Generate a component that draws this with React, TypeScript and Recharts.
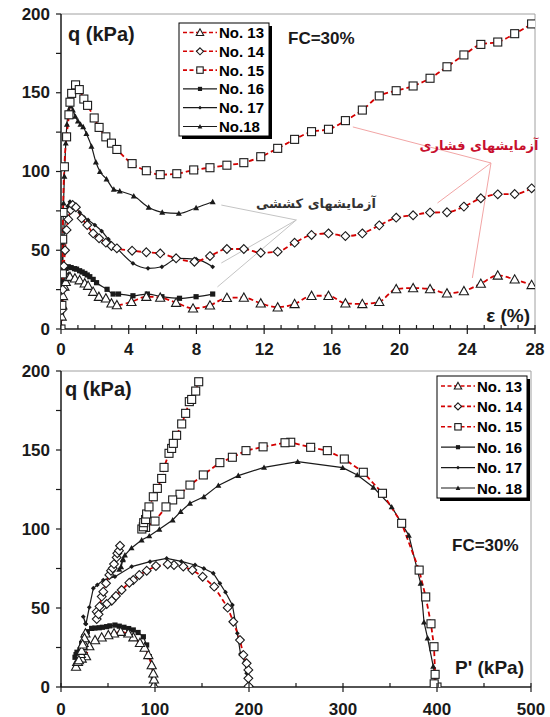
import React from 'react'
import { LineChart, Line, XAxis, YAxis, ReferenceLine } from 'recharts'

type Pt = [number, number]

// strain (%) vs q (kPa), upper panel
const strainTicks = Array.from({ length: 29 }, (_, i) => i)
const qTicks = [0, 25, 50, 75, 100, 125, 150, 175, 200]
const pTicks = [0, 50, 100, 150, 200, 250, 300, 350, 400, 450, 500]

const top13: Pt[] = [[0, 0], [0.04, 8], [0.08, 15], [0.12, 21], [0.2, 27], [0.28, 30], [0.43, 33], [0.53, 33.2], [0.82, 32.2], [1.1, 31], [1.4, 29], [1.6, 27.5], [1.9, 23.7], [2.24, 20.5], [2.65, 19.5], [2.98, 16.3], [3.3, 15.2], [4.16, 17.3], [5.04, 20.5], [5.86, 20], [6.8, 16.7], [7.8, 13.1], [8.8, 15], [9.8, 19.8], [10.8, 20], [11.8, 16.3], [12.8, 13.8], [13.8, 15.9], [14.8, 21.1], [15.8, 21.1], [16.8, 16.3], [17.8, 15.9], [18.8, 17.3], [19.8, 25.4], [20.8, 26], [21.8, 25.4], [22.8, 22.7], [23.8, 24.1], [24.8, 28.8], [25.8, 34], [26.8, 31.5], [27.8, 28]]
const top14: Pt[] = [[0, 0], [0.05, 12], [0.1, 25], [0.17, 40], [0.24, 50], [0.33, 62.9], [0.43, 69.6], [0.57, 75.6], [0.69, 78.7], [0.88, 77.3], [1.22, 70.3], [1.55, 66], [1.9, 60.7], [2.25, 57.6], [2.65, 54.8], [2.98, 52.7], [3.3, 51.2], [4.2, 49.7], [5.04, 48.7], [5.86, 48], [6.8, 44.9], [7.88, 42.7], [8.8, 46.3], [9.8, 50.8], [10.8, 50.8], [11.8, 48.4], [12.8, 49.1], [13.8, 54.8], [14.8, 59.7], [15.8, 60.7], [16.8, 59], [17.8, 60.7], [18.8, 65.8], [19.8, 70.7], [20.8, 72.2], [21.8, 73.9], [22.8, 74.1], [23.8, 77.7], [24.8, 83], [25.8, 85.5], [26.8, 85.7], [27.8, 89.3]]
const top15: Pt[] = [[0, 0], [0.05, 15], [0.08, 35], [0.1, 57], [0.12, 74], [0.2, 103], [0.33, 122], [0.47, 136], [0.53, 144], [0.63, 149.6], [0.86, 155], [1.08, 152], [1.35, 146], [1.57, 142], [1.96, 134], [2.25, 128], [2.65, 122], [2.98, 118], [3.3, 114], [4.2, 105], [5.04, 100.5], [5.86, 98], [6.84, 98.6], [7.84, 101], [8.8, 102.4], [9.8, 104], [10.8, 105.6], [11.8, 109.4], [12.8, 114.7], [13.8, 120.4], [14.8, 125.3], [15.8, 126.8], [16.8, 132.3], [17.8, 139], [18.8, 148], [19.8, 151.3], [20.8, 154.3], [21.8, 159.2], [22.8, 166.5], [23.8, 174], [24.8, 180.7], [25.8, 182.2], [26.8, 187.5], [27.8, 193.7]]
const top16: Pt[] = [[0, 0], [0.03, 10], [0.06, 20], [0.1, 30], [0.2, 36], [0.3, 38.5], [0.43, 39.5], [0.6, 39], [0.8, 38.3], [0.92, 38], [1.1, 37], [1.25, 36.2], [1.41, 35.3], [1.55, 34.3], [1.7, 33.2], [1.9, 31.5], [2.1, 29.4], [2.72, 25.2], [3.08, 22.2], [3.4, 22.2], [4.25, 21.1], [5.1, 22.2], [5.96, 20.5], [7, 19.5], [7.98, 20.5], [8.96, 22.2]]
const top17: Pt[] = [[0, 0], [0.05, 20], [0.1, 40], [0.2, 62], [0.3, 72], [0.4, 78], [0.53, 80.8], [0.7, 79], [0.9, 76.5], [1.1, 74], [1.35, 71], [1.6, 69.2], [2, 66], [2.4, 62.2], [2.8, 57], [3.37, 50.6], [4.25, 41.7], [5.14, 38.5], [5.96, 39.5], [6.9, 44.9], [7.98, 44.4], [8.96, 39.5]]
const top18: Pt[] = [[0, 0], [0.05, 25], [0.1, 55], [0.15, 80], [0.2, 97], [0.28, 118], [0.35, 130], [0.45, 139], [0.57, 141.6], [0.7, 139], [0.85, 135], [1.0, 132], [1.15, 130], [1.31, 128.4], [1.5, 124], [1.8, 116], [2.06, 106], [2.3, 100], [2.69, 95.2], [3.12, 88.7], [3.47, 87.6], [4.3, 84.4], [5.18, 77.3], [5.98, 74.1], [6.96, 73.4], [7.98, 77], [8.96, 80.8]]

// p' (kPa) vs q (kPa), lower panel
const bot13: Pt[] = [[99, 0], [98.9, 1.2], [98.9, 4.9], [98.2, 8.7], [96.5, 13.9], [92.9, 20.3], [89, 25], [84, 28], [77, 31.5], [71.6, 34], [63.5, 35], [56.4, 34], [50.3, 32.9], [43.3, 31.4], [36.2, 29.7], [30.1, 25.9], [26.6, 19.6], [22, 18.1], [17.3, 16], [16, 12.9], [18, 16], [21, 21], [19, 17], [23, 26], [22, 23], [24, 28], [26, 34], [25, 31], [23, 27]]
const bot14: Pt[] = [[200, 0], [199.6, 0.5], [199.3, 5.5], [199.3, 10.8], [197.5, 15], [194, 20.3], [190.4, 29.7], [183.3, 41.3], [177.3, 50.2], [163, 63.5], [150.7, 69.8], [139.7, 74], [130.1, 76.2], [120.2, 77.2], [113.5, 77.7], [101, 76.6], [91.2, 73.6], [83.3, 70.9], [76.9, 67.7], [72.7, 66], [64.5, 61.4], [58.5, 57.6], [53.9, 54.6], [48.6, 52.5], [43.3, 50.4], [38, 47.7], [38, 43], [40, 46], [41, 51], [43.3, 57.2], [45, 60.3], [47.9, 65.6], [51.4, 70.9], [53.2, 73.6], [55, 75.1], [56.4, 77.8], [59.2, 82], [59.9, 84.6], [61.7, 86.3], [62.8, 89.4]]
const bot15: Pt[] = [[400, 0], [397, 2], [398, 8], [396.8, 25.5], [393.6, 40], [388, 57], [381, 74], [362.4, 103.6], [342, 122.6], [321.6, 135.9], [301.4, 144.3], [283.3, 149.6], [265.6, 151.7], [244.4, 154.9], [238.3, 154.6], [215, 152], [196.8, 149.6], [182.3, 145.4], [169, 142], [151.4, 134.2], [137.2, 127.8], [126.6, 122], [118.8, 118.4], [111.7, 114], [100, 105], [90, 101], [86, 100], [87.6, 101.4], [88, 104], [90, 106], [91.1, 109.5], [93.6, 114], [98.2, 120.4], [102.5, 125.7], [107.1, 132], [109.6, 139], [114.9, 147.9], [117.7, 151], [119.5, 154.2], [123, 159.3], [128.4, 166.5], [132.6, 173.2], [136.5, 180.6], [139, 182], [143.3, 187.3], [146.5, 193.2]]
const bot16: Pt[] = [[99, 0], [98.9, 0.6], [98.2, 6.5], [96.5, 12.9], [94, 19.2], [91.1, 26.6], [87.6, 31.8], [82, 34.5], [76.9, 36.1], [72, 37], [67, 37.8], [62, 38.5], [57.4, 39.2], [52, 38.7], [48.6, 38.2], [44, 37.8], [40.7, 37.5], [36, 37.3], [32.6, 37.1], [28, 35], [24.5, 31.8], [22, 27.6], [20.2, 23.4], [17.3, 19.2], [14.9, 18.8], [16, 20.5], [17, 22]]
const bot17: Pt[] = [[200, 0], [199.3, 0.6], [197.5, 8.7], [195.7, 16], [191, 20.9], [187.6, 34], [182.3, 51.9], [175, 60], [169, 65.6], [162, 72], [152, 75], [142.6, 77.2], [128, 79.5], [112.4, 81.4], [94.7, 79.3], [75.2, 76.2], [57.4, 69.8], [45, 67.7], [38.6, 64.6], [34.4, 62.5], [30.1, 50.4], [26.6, 39.9], [23.7, 44.5], [26, 40]]
const bot18: Pt[] = [[400, 0], [399.7, 2], [396, 13.1], [390, 31], [386.2, 41], [382.6, 65.6], [370, 96], [351.8, 114], [332.3, 126.4], [315.2, 134.2], [299.7, 138.8], [251.8, 142.6], [216, 139], [188.6, 133.8], [167.4, 127.6], [152, 120.4], [137.2, 116.3], [127.3, 111], [118.8, 105.7], [104.6, 99.8], [93.9, 95.6], [85.8, 93], [75, 88], [68, 83.5], [65.6, 80.4], [62, 74.5], [64, 76], [66, 81]]

const seriesNames = ['No. 13', 'No. 14', 'No. 15', 'No. 16', 'No. 17', 'No.18']
const seriesNamesLower = ['No. 13', 'No. 14', 'No. 15', 'No. 16', 'No. 17', 'No. 18']

const FONT = 'Arial, "Liberation Sans", sans-serif'
const RED = '#d40000'
const INK = '#1a1a1a'

type Kind = 'triOpen' | 'diaOpen' | 'sqOpen' | 'sqFill' | 'dotFill' | 'triFill'
const kinds: Kind[] = ['triOpen', 'diaOpen', 'sqOpen', 'sqFill', 'dotFill', 'triFill']

function Marker({ kind, cx, cy, s = 1 }: { kind: Kind; cx: number; cy: number; s?: number }) {
  if (cx == null || cy == null) return null
  switch (kind) {
    case 'triOpen': {
      const r = 4.6 * s
      return <polygon points={`${cx},${cy - r} ${cx - r},${cy + r * 0.8} ${cx + r},${cy + r * 0.8}`} fill="#fff" stroke={INK} strokeWidth={1.1} />
    }
    case 'diaOpen': {
      const r = 4.4 * s
      return <polygon points={`${cx},${cy - r} ${cx + r},${cy} ${cx},${cy + r} ${cx - r},${cy}`} fill="#fff" stroke={INK} strokeWidth={1.1} />
    }
    case 'sqOpen': {
      const r = 4 * s
      return <rect x={cx - r} y={cy - r} width={2 * r} height={2 * r} fill="#fff" stroke={INK} strokeWidth={1.1} />
    }
    case 'sqFill': {
      const r = 2.6 * s
      return <rect x={cx - r} y={cy - r} width={2 * r} height={2 * r} fill={INK} />
    }
    case 'dotFill': {
      const r = 2.4 * s
      return <polygon points={`${cx},${cy - r} ${cx + r},${cy} ${cx},${cy + r} ${cx - r},${cy}`} fill={INK} />
    }
    default: {
      const r = 3 * s
      return <polygon points={`${cx},${cy - r} ${cx - r},${cy + r * 0.8} ${cx + r},${cy + r * 0.8}`} fill={INK} />
    }
  }
}

const toRows = (pts: Pt[]) => pts.map(([x, y]) => ({ x, y }))

const dotFor = (kind: Kind) => (p: any) => (
  <Marker key={`m${p.index}`} kind={kind} cx={p.cx} cy={p.cy} />
)

function XTickStrain({ x, y, payload }: any) {
  const v = payload.value
  const major = v % 4 === 0
  return (
    <g>
      <line x1={x} x2={x} y1={y - 4} y2={major ? y + 5 : y} stroke={INK} strokeWidth={1.2} />
      {major && (
        <text x={x} y={y + 20} textAnchor="middle" dominantBaseline="central" fontFamily={FONT} fontWeight={700} fontSize={17} fill={INK}>{v}</text>
      )}
    </g>
  )
}

function XTickP({ x, y, payload }: any) {
  const v = payload.value
  const major = v % 100 === 0
  return (
    <g>
      <line x1={x} x2={x} y1={y - 4} y2={major ? y + 5 : y} stroke={INK} strokeWidth={1.2} />
      {major && (
        <text x={x} y={y + 22} textAnchor="middle" dominantBaseline="central" fontFamily={FONT} fontWeight={700} fontSize={17} fill={INK}>{v}</text>
      )}
    </g>
  )
}

function YTickQ({ x, y, payload }: any) {
  const v = payload.value
  const major = v % 50 === 0
  return (
    <g>
      <line x1={x - 5} x2={x} y1={y} y2={y} stroke={INK} strokeWidth={1.2} />
      {major && (
        <text x={x - 11} y={y} textAnchor="end" dominantBaseline="central" fontFamily={FONT} fontWeight={700} fontSize={17} fill={INK}>{v}</text>
      )}
    </g>
  )
}

function renderSeries(sets: Pt[][], curve: 'monotone' | 'linear') {
  const order = [3, 4, 5, 0, 1, 2]
  return order.map((i) => {
    const red = i < 3
    return (
      <Line
        key={seriesNames[i]}
        data={toRows(sets[i])}
        dataKey="y"
        type={curve}
        stroke={red ? RED : INK}
        strokeWidth={red ? 1.8 : 1.2}
        strokeDasharray={red ? '5 3' : undefined}
        dot={dotFor(kinds[i])}
        activeDot={false}
        isAnimationActive={false}
      />
    )
  })
}

function LegendBox({ x, y, rowH, names, firstOffset }: { x: number; y: number; rowH: number; names: string[]; firstOffset: number }) {
  const w = 90
  const h = firstOffset * 2 + rowH * (names.length - 1)
  return (
    <g>
      <rect x={x + 3} y={y + 3} width={w} height={h} fill="#000" />
      <rect x={x} y={y} width={w} height={h} fill="#fff" stroke="#000" strokeWidth={1} />
      {names.map((n, i) => {
        const cy = y + firstOffset + i * rowH
        const red = i < 3
        return (
          <g key={n}>
            <line x1={x + 4} x2={x + 38} y1={cy} y2={cy} stroke={red ? RED : INK} strokeWidth={red ? 1.6 : 1.2} strokeDasharray={red ? '4 2.5' : undefined} />
            <Marker kind={kinds[i]} cx={x + 21} cy={cy} s={0.8} />
            <text x={x + 40} y={cy} dominantBaseline="central" fontFamily={FONT} fontWeight={700} fontSize={15} fill="#000">{n}</text>
          </g>
        )
      })}
    </g>
  )
}

const tx = (props: any) => ({ fontFamily: FONT, fontWeight: 700, fill: INK, ...props })

export default function App() {
  const topSets = [top13, top14, top15, top16, top17, top18]
  const botSets = [bot13, bot14, bot15, bot16, bot17, bot18]
  return (
    <div style={{ position: 'absolute', left: 0, top: 0, width: 550, height: 717, background: '#fff' }}>
      <div style={{ position: 'absolute', left: 0, top: 0 }}>
        <LineChart width={550} height={360} margin={{ top: 14, right: 15, bottom: 0, left: 0 }}>
          <XAxis type="number" dataKey="x" domain={[0, 28]} ticks={strainTicks} interval={0} allowDataOverflow height={31}
            tickSize={0} tickMargin={0} tickLine={false} axisLine={{ stroke: INK, strokeWidth: 1.5 }} tick={<XTickStrain />} />
          <YAxis type="number" domain={[0, 200]} ticks={qTicks} interval={0} allowDataOverflow width={61}
            tickSize={0} tickMargin={0} tickLine={false} axisLine={{ stroke: INK, strokeWidth: 1.5 }} tick={<YTickQ />} />
          <ReferenceLine y={200} stroke="#a0a0a0" strokeWidth={1} />
          <ReferenceLine x={28} stroke="#a0a0a0" strokeWidth={1} />
          <ReferenceLine segment={[{ x: 25.4, y: 105.4 }, { x: 17.24, y: 128.3 }]} stroke="#f2a5a5" strokeWidth={1} />
          <ReferenceLine segment={[{ x: 25.4, y: 105.4 }, { x: 22.24, y: 80 }]} stroke="#f2a5a5" strokeWidth={1} />
          <ReferenceLine segment={[{ x: 25.4, y: 105.4 }, { x: 24.3, y: 32.4 }]} stroke="#f2a5a5" strokeWidth={1} />
          <ReferenceLine segment={[{ x: 13.9, y: 69.2 }, { x: 9.47, y: 78.7 }]} stroke="#c4c4c4" strokeWidth={1} />
          <ReferenceLine segment={[{ x: 13.9, y: 69.2 }, { x: 9.47, y: 41.9 }]} stroke="#c4c4c4" strokeWidth={1} />
          <ReferenceLine segment={[{ x: 13.9, y: 69.2 }, { x: 9.24, y: 26.7 }]} stroke="#c4c4c4" strokeWidth={1} />
          {renderSeries(topSets, 'monotone')}
        </LineChart>
      </div>
      <div style={{ position: 'absolute', left: 0, top: 357 }}>
        <LineChart width={550} height={360} margin={{ top: 14, right: 19, bottom: 0, left: 0 }}>
          <XAxis type="number" dataKey="x" domain={[0, 500]} ticks={pTicks} interval={0} allowDataOverflow height={30}
            tickSize={0} tickMargin={0} tickLine={false} axisLine={{ stroke: INK, strokeWidth: 1.5 }} tick={<XTickP />} />
          <YAxis type="number" domain={[0, 200]} ticks={qTicks} interval={0} allowDataOverflow width={61}
            tickSize={0} tickMargin={0} tickLine={false} axisLine={{ stroke: INK, strokeWidth: 1.5 }} tick={<YTickQ />} />
          <ReferenceLine y={200} stroke="#a0a0a0" strokeWidth={1} />
          <ReferenceLine x={500} stroke="#a0a0a0" strokeWidth={1} />
          {renderSeries(botSets, 'linear')}
        </LineChart>
      </div>
      <svg width={550} height={717} style={{ position: 'absolute', left: 0, top: 0, pointerEvents: 'none' }}>
        <text {...tx({ x: 68, y: 34, fontSize: 20, dominantBaseline: 'central' })}>q (kPa)</text>
        <text {...tx({ x: 288, y: 38, fontSize: 17, dominantBaseline: 'central' })}>FC=30%</text>
        <text {...tx({ x: 530, y: 315, fontSize: 19, dominantBaseline: 'central', textAnchor: 'end' })}>ε (%)</text>
        <text x={479} y={145} textAnchor="middle" dominantBaseline="central" fontFamily='"DejaVu Sans", sans-serif' fontWeight={700} fontSize={13} fill="#c8102e">آزمایشهای فشاری</text>
        <text x={316} y={203} textAnchor="middle" dominantBaseline="central" fontFamily='"DejaVu Sans", sans-serif' fontWeight={700} fontSize={13} fill="#333">آزمایشهای کششی</text>
        <LegendBox x={179} y={23} rowH={18.8} firstOffset={9.5} names={seriesNames} />

        <text {...tx({ x: 65, y: 389, fontSize: 20, dominantBaseline: 'central' })}>q (kPa)</text>
        <text {...tx({ x: 452, y: 545, fontSize: 17, dominantBaseline: 'central' })}>FC=30%</text>
        <text {...tx({ x: 524, y: 667, fontSize: 19, dominantBaseline: 'central', textAnchor: 'end' })}>P' (kPa)</text>
        <LegendBox x={437} y={376} rowH={20.4} firstOffset={10} names={seriesNamesLower} />
      </svg>
    </div>
  )
}
